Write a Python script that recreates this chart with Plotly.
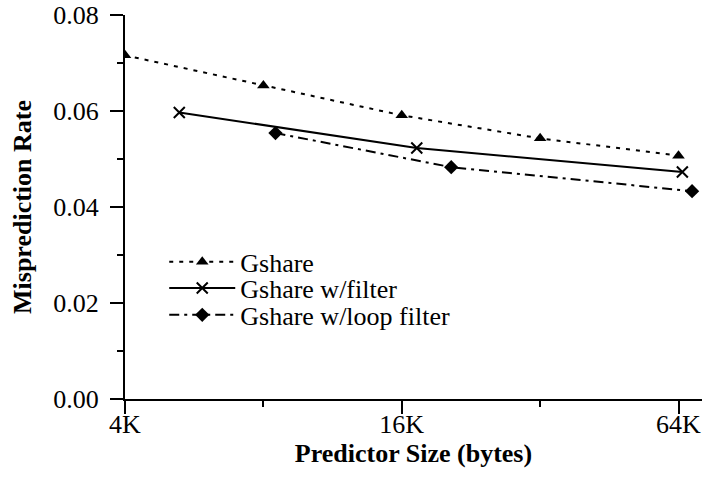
import plotly.graph_objects as go

# Data (predictor size in KB, misprediction rate)
gshare_x = [4, 8, 16, 32, 64]
gshare_y = [0.0716, 0.0653, 0.0591, 0.0543, 0.0507]

filter_x = [5.25, 17.25, 65.25]
filter_y = [0.0597, 0.0523, 0.0473]

loop_x = [8.5, 20.5, 68.5]
loop_y = [0.0554, 0.0483, 0.0433]

x_tickvals = [4, 16, 64]
x_ticktext = ["4K", "16K", "64K"]
x_minor = [8, 32]
y_tickvals = [0.00, 0.02, 0.04, 0.06, 0.08]
y_ticktext = ["0.00", "0.02", "0.04", "0.06", "0.08"]

FONT = "Liberation Serif, Times New Roman, serif"

fig = go.Figure()
fig.add_trace(go.Scatter(
    x=gshare_x, y=gshare_y, name="Gshare", mode="lines+markers",
    line=dict(color="black", width=2, dash="4px,6px"),
    marker=dict(symbol="triangle-up", size=11, color="black"),
    legend="legend",
))
fig.add_trace(go.Scatter(
    x=filter_x, y=filter_y, name="Gshare w/filter", mode="lines+markers",
    line=dict(color="black", width=2),
    marker=dict(symbol="x-thin-open", size=11, color="black",
                line=dict(color="black", width=2)),
    legend="legend2",
))
fig.add_trace(go.Scatter(
    x=loop_x, y=loop_y, name="Gshare w/loop filter", mode="lines+markers",
    line=dict(color="black", width=2, dash="10px,5px,3px,5px"),
    marker=dict(symbol="diamond", size=11, color="black"),
    legend="legend3",
))

leg_common = dict(x=0.068, xanchor="left", yanchor="middle",
                  bgcolor="rgba(0,0,0,0)", font=dict(size=26),
                  itemwidth=66)

fig.update_layout(
    width=704, height=480,
    margin=dict(l=125, r=2, t=15, b=81),
    paper_bgcolor="white", plot_bgcolor="white",
    font=dict(family=FONT, size=26, color="black"),
    showlegend=True,
    legend=dict(y=0.357, **leg_common),
    legend2=dict(y=0.289, **leg_common),
    legend3=dict(y=0.219, **leg_common),
    xaxis=dict(
        type="log", range=[0.60206, 1.8573],
        tickvals=x_tickvals, ticktext=x_ticktext,
        ticks="outside", ticklen=13, tickwidth=2, tickcolor="black",
        ticklabelstandoff=-12,
        showline=True, linecolor="black", linewidth=2,
        showgrid=False, zeroline=False,
        minor=dict(tickvals=x_minor, ticks="outside", ticklen=6,
                   tickwidth=2, tickcolor="black", showgrid=False),
        title=dict(text="<b>Predictor Size (bytes)</b>", standoff=0,
                   font=dict(size=26)),
    ),
    yaxis=dict(
        range=[0, 0.08],
        tickvals=y_tickvals, ticktext=y_ticktext,
        ticks="outside", ticklen=13, tickwidth=2, tickcolor="black",
        ticklabelstandoff=6,
        showline=True, linecolor="black", linewidth=2,
        showgrid=False, zeroline=False,
        minor=dict(dtick=0.01, ticks="outside", ticklen=6,
                   tickwidth=2, tickcolor="black", showgrid=False),
        title=dict(text="<b>Misprediction Rate</b>", standoff=14,
                   font=dict(size=26)),
    ),
)

fig.write_html("out.html")
